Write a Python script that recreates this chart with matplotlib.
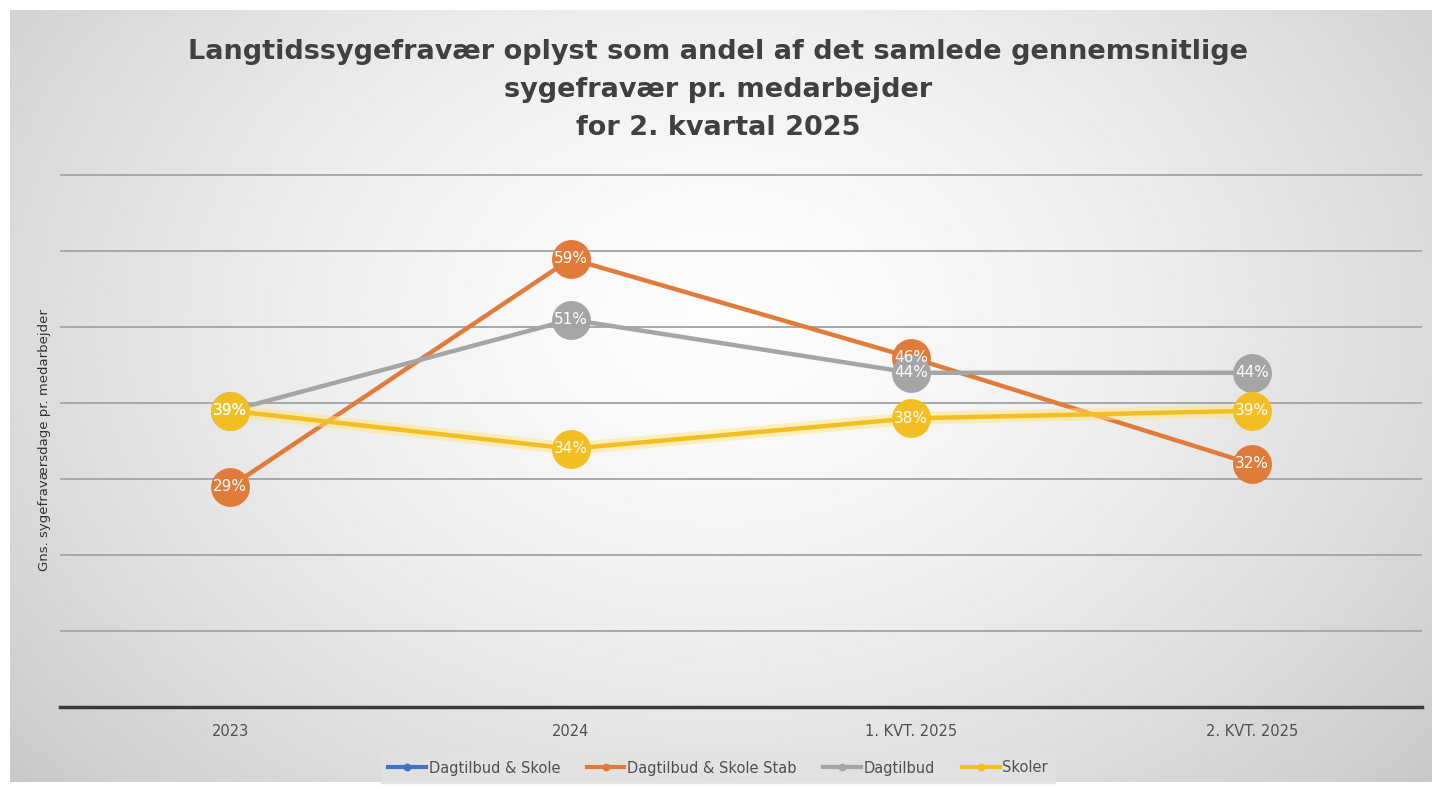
import numpy as np
import matplotlib.pyplot as plt

# data
categories = ["2023", "2024", "1. KVT. 2025", "2. KVT. 2025"]
series_names = ["Dagtilbud & Skole", "Dagtilbud & Skole Stab", "Dagtilbud", "Skoler"]
dagtilbud_skole = [np.nan, np.nan, np.nan, np.nan]
dagtilbud_skole_stab = [29, 59, 46, 32]
dagtilbud = [39, 51, 44, 44]
skoler = [39, 34, 38, 39]
colors = ["#4472C4", "#E07B39", "#A5A5A5", "#F2BE22"]

fig = plt.figure(figsize=(14.36, 7.89), dpi=100)
fig.patch.set_facecolor("white")

# radial gradient background
bg = fig.add_axes([10 / 1436, 1 - 782 / 789, 1422 / 1436, 772 / 789], zorder=0)
yy, xx = np.mgrid[0:1:300j, 0:1:500j]
r = np.sqrt(((xx - 0.5) * 1.25) ** 2 + ((yy - 0.4) * 0.9) ** 2)
shade = np.clip(0.99 - 0.27 * r ** 1.5, 0.77, 0.99)
bg.imshow(shade, cmap="gray", vmin=0, vmax=1, aspect="auto", extent=[0, 1, 0, 1])
bg.axis("off")

ax = fig.add_axes([60 / 1436, 1 - 707 / 789, 1362 / 1436, 534 / 789], zorder=1)
ax.patch.set_alpha(0)
x = np.arange(len(categories))

all_series = [dagtilbud_skole, dagtilbud_skole_stab, dagtilbud, skoler]
for i, (vals, name, c) in enumerate(zip(all_series, series_names, colors)):
    if name == "Skoler":
        ax.plot(x, vals, color="#FFE680", lw=9, alpha=0.5, zorder=2 + i, solid_capstyle="round")
    ax.plot(x, vals, color=c, lw=3.2, marker="o", markersize=28, label=name,
            zorder=3 + i, markeredgewidth=0)
    for xi, v in zip(x, vals):
        if not np.isnan(v):
            ax.text(xi, v, f"{v:.0f}%", color="white", ha="center", va="center",
                    fontsize=11, zorder=10)

ax.set_ylim(0, 70.3)
ax.set_xlim(-0.5, len(categories) - 0.5)
ax.set_yticks(np.arange(10, 71, 10))
ax.yaxis.grid(True, color="#a8a8a8", lw=1.4)
ax.set_axisbelow(True)
ax.tick_params(axis="y", left=False, labelleft=False)
ax.tick_params(axis="x", length=0, pad=12, labelsize=10.5, labelcolor="#505050")
ax.set_xticks(x)
ax.set_xticklabels(categories)
for s in ["top", "right", "left"]:
    ax.spines[s].set_visible(False)
ax.spines["bottom"].set_color("#3a3a3a")
ax.spines["bottom"].set_linewidth(2.5)

fig.text(45 / 1436, 1 - 440 / 789, "Gns. sygefraværsdage pr. medarbejder", rotation=90,
         ha="center", va="center", fontsize=9.5, color="#333333")

fig.text(0.5, 1 - 90 / 789,
         "Langtidssygefravær oplyst som andel af det samlede gennemsnitlige\nsygefravær pr. medarbejder\nfor 2. kvartal 2025",
         ha="center", va="center", fontsize=19.5, fontweight="bold", color="#404040",
         linespacing=1.6)

leg = fig.legend(loc="center", bbox_to_anchor=(0.5, 1 - 768 / 789), ncol=4, frameon=True,
                 fancybox=False, fontsize=10.5, handlelength=2.6, markerscale=0.2,
                 columnspacing=1.8, handletextpad=0.2, borderpad=0.5)
leg.get_frame().set_facecolor("#e2e2e2")
leg.get_frame().set_edgecolor("#e2e2e2")
for h in leg.legend_handles:
    h.set_linewidth(3)
for t in leg.get_texts():
    t.set_color("#505050")

fig.savefig("out.png", dpi=100)
